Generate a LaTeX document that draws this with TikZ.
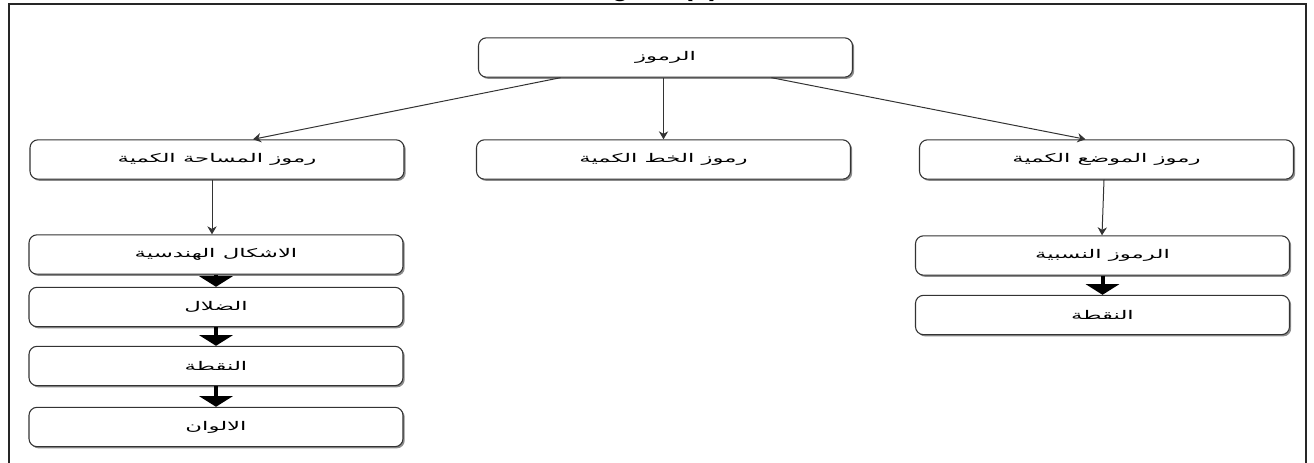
\documentclass[tikz,border=0pt]{standalone}
\usepackage{fontspec}
\usepackage{graphicx}
\usetikzlibrary{arrows.meta,shadows,calc}
\TeXXeTstate=1
\setmainfont{Liberation Sans}
\newfontfamily\arabicfont[Script=Arabic]{DejaVu Sans}
\newcommand\artxt[1]{\scalebox{1.9}[1]{\arabicfont\fontsize{9}{10}\selectfont\beginR #1\endR}}
\begin{document}
\begin{tikzpicture}[x=0.75pt,y=-0.75pt,
  box/.style={draw=black!80, line width=0.8pt, rounded corners=6pt, fill=white,
    minimum width=280.5pt, minimum height=29.5pt, inner sep=0pt,
    drop shadow={shadow xshift=1.3pt, shadow yshift=-1.3pt, fill=black!45, opacity=1}},
  thinarrow/.style={draw=black!80, line width=0.75pt, -{Stealth[length=6pt,width=7pt]}},
  blockarrow/.style={draw=black, line width=3pt, -{Triangle[length=8pt,width=25pt]}}]
\useasboundingbox (0,0) rectangle (1314,463);
\begin{scope}
  \clip (0,0) rectangle (1314,463);
  \node[font=\bfseries\fontsize{22}{24}\selectfont, anchor=base west, inner sep=0pt] (title) at (585,-4) {Figure (1)};
\end{scope}
\draw[line width=1pt, black!85] (9,463) -- (9,4) -- (1306,4) -- (1306,463);

\node[box] (root) at (665.5,57.5) {\artxt{الرموز}};
\node[box] (area) at (217,159.5) {\artxt{رموز المساحة الكمية}};
\node[box] (line) at (663.5,159.5) {\artxt{رموز الخط الكمية}};
\node[box] (pos) at (1106.5,159.5) {\artxt{رموز الموضع الكمية}};

\node[box] (a1) at (216,254.5) {\artxt{الاشكال الهندسية}};
\node[box] (a2) at (216,307) {\artxt{الضلال}};
\node[box] (a3) at (216,366) {\artxt{النقطة}};
\node[box] (a4) at (216,427) {\artxt{الالوان}};

\node[box] (p1) at (1102.5,255.5) {\artxt{الرموز النسبية}};
\node[box] (p2) at (1102.5,315) {\artxt{النقطة}};

\draw[thinarrow] ($(root.south)+(-105,0)$) -- ($(area.north)+(36,0)$);
\draw[thinarrow] (root.south -| line.north) -- (line.north);
\draw[thinarrow] ($(root.south)+(106,0)$) -- ($(pos.north)+(-21,0)$);
\draw[thinarrow] (area.south -| 212,0) -- (a1.north -| 212,0);
\draw[thinarrow] (pos.south -| 1104,0) -- (p1.north -| 1102,0);

\draw[blockarrow] (a1.south) -- (a2.north);
\draw[blockarrow] (a2.south) -- (a3.north);
\draw[blockarrow] (a3.south) -- (a4.north);
\draw[blockarrow] (p1.south) -- (p2.north);
\end{tikzpicture}
\end{document}
